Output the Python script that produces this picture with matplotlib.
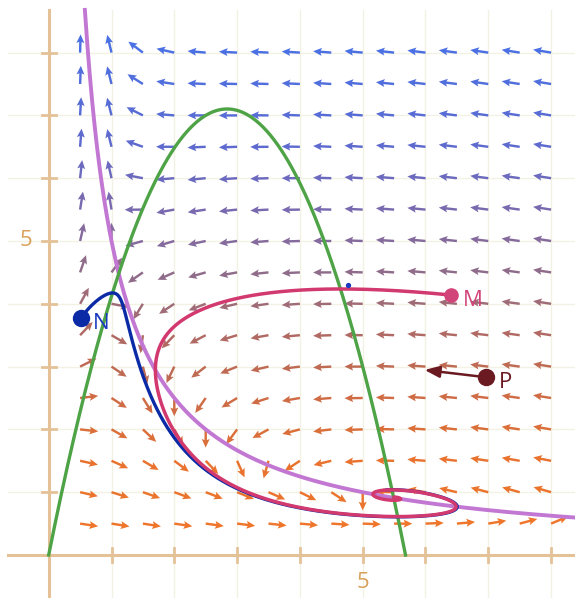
import numpy as np
import matplotlib.pyplot as plt
from matplotlib.colors import LinearSegmentedColormap

# model: x' = 0 on y = K/x (purple), y' = 0 on y = A*x - B*x^2 (green)
K = 5.0
A = 5.0
B = 0.88
C = 0.4

M = (6.40, 4.14)
N = (0.51, 3.77)
P = (6.97, 2.83)
DOT = (4.76, 4.30)
T_M = 2.6
T_N = 2.6

# arrow grid (tails) and colour stops by height
grid_x = np.arange(0.5, 8.01, 0.5)
grid_y = np.arange(0.5, 8.01, 0.5)
color_y = [0.0, 1.5, 2.5, 3.5, 4.5, 5.5, 6.5, 8.0]
color_c = ["#f2772a", "#e8722e", "#cf6c45", "#b06a62", "#906c8a", "#7a6aae", "#5f6acf", "#4a70e4"]


def field(x, y):
    u = x * (K - x * y)
    v = C * y * (y - (A * x - B * x ** 2))
    return u, v


def trajectory(p0, t_end, dt=2e-4):
    pts = [p0]
    x, y = p0
    for _ in range(int(t_end / dt)):
        k1 = field(x, y)
        k2 = field(x + dt / 2 * k1[0], y + dt / 2 * k1[1])
        k3 = field(x + dt / 2 * k2[0], y + dt / 2 * k2[1])
        k4 = field(x + dt * k3[0], y + dt * k3[1])
        x += dt / 6 * (k1[0] + 2 * k2[0] + 2 * k3[0] + k4[0])
        y += dt / 6 * (k1[1] + 2 * k2[1] + 2 * k3[1] + k4[1])
        pts.append((x, y))
    return np.array(pts)


fig = plt.figure(figsize=(5.75, 5.98), dpi=100)
ax = fig.add_axes([0, 0, 1, 1])
ux = 62.8
ax.set_xlim(-48.7 / ux, (575 - 48.7) / ux)
ax.set_ylim((555 - 598) / ux, 555 / ux)
ax.axis("off")
x0, x1 = ax.get_xlim()
y0, y1 = ax.get_ylim()

for k in range(1, 9):
    ax.plot([k, k], [y0, 8.68], color="#f3f1e3", lw=1.0, zorder=0)
    ax.plot([-0.65, x1], [k, k], color="#f3f1e3", lw=1.0, zorder=0)

axis_col = "#e5c197"
ax.plot([0, 0], [y0, 8.68], color=axis_col, lw=2.2, zorder=1)
ax.plot([-0.65, x1], [0, 0], color=axis_col, lw=2.2, zorder=1)
for k in range(1, 9):
    ax.plot([-0.11, 0.11], [k, k], color=axis_col, lw=2.0, zorder=1)
    ax.plot([k, k], [-0.11, 0.11], color=axis_col, lw=2.0, zorder=1)
ax.text(5, -0.44, "5", color="#d9a05a", fontsize=16, ha="center", va="center", fontfamily="Open Sans")
ax.text(-0.36, 5, "5", color="#d9a05a", fontsize=16, ha="center", va="center", fontfamily="Open Sans")

# direction field
gx, gy = np.meshgrid(grid_x, grid_y)
u, v = field(gx, gy)
mag = np.hypot(u, v)
u, v = u / mag * 0.29, v / mag * 0.29
cmap = LinearSegmentedColormap.from_list("rows", list(zip(np.array(color_y) / 8.0, color_c)))
cols = cmap(gy.ravel() / 8.0)
ax.quiver(gx, gy, u, v, color=cols, angles="xy", scale_units="xy", scale=1, pivot="tail",
          width=0.0042, headwidth=3.3, headlength=3.6, headaxislength=3.1, zorder=2)

# nullclines
xs = np.linspace(K / 8.68, x1, 400)
ax.plot(xs, K / xs, color="#c277d2", lw=2.8, zorder=3)
xg = np.linspace(0, A / B, 400)
ax.plot(xg, A * xg - B * xg ** 2, color="#4ea346", lw=2.4, zorder=3)

# trajectories
tn = trajectory(N, T_N)
ax.plot(tn[:, 0], tn[:, 1], color="#0b2aa6", lw=2.4, zorder=4, solid_capstyle="round")
tm = trajectory(M, T_M)
ax.plot(tm[:, 0], tm[:, 1], color="#d2396f", lw=2.5, zorder=5, solid_capstyle="round")

# vector at P
pu, pv = field(*P)
s = 0.0096
ax.annotate("", xy=(P[0] + pu * s, P[1] + pv * s), xytext=P,
            arrowprops=dict(arrowstyle="-|>,head_length=0.9,head_width=0.35", color="#6b1a22", lw=1.8,
                            shrinkA=0, shrinkB=0), zorder=6)

ax.plot(*M, "o", ms=9.5, color="#d2457a", zorder=7)
ax.plot(*N, "o", ms=11.5, color="#0b2aa6", zorder=7)
ax.plot(*P, "o", ms=11.5, color="#6b1a22", zorder=7)
ax.plot(*DOT, "o", ms=2.8, color="#1a3ac0", zorder=7)
lab = dict(fontsize=16, ha="left", va="center", zorder=8, fontfamily="Open Sans")
ax.text(M[0] + 0.19, M[1] - 0.08, "M", color="#d2457a", **lab)
ax.text(N[0] + 0.2, N[1] - 0.08, "N", color="#1a3ac0", **lab)
ax.text(P[0] + 0.2, P[1] - 0.08, "P", color="#6b1a22", **lab)

fig.savefig("out.png", dpi=100)
